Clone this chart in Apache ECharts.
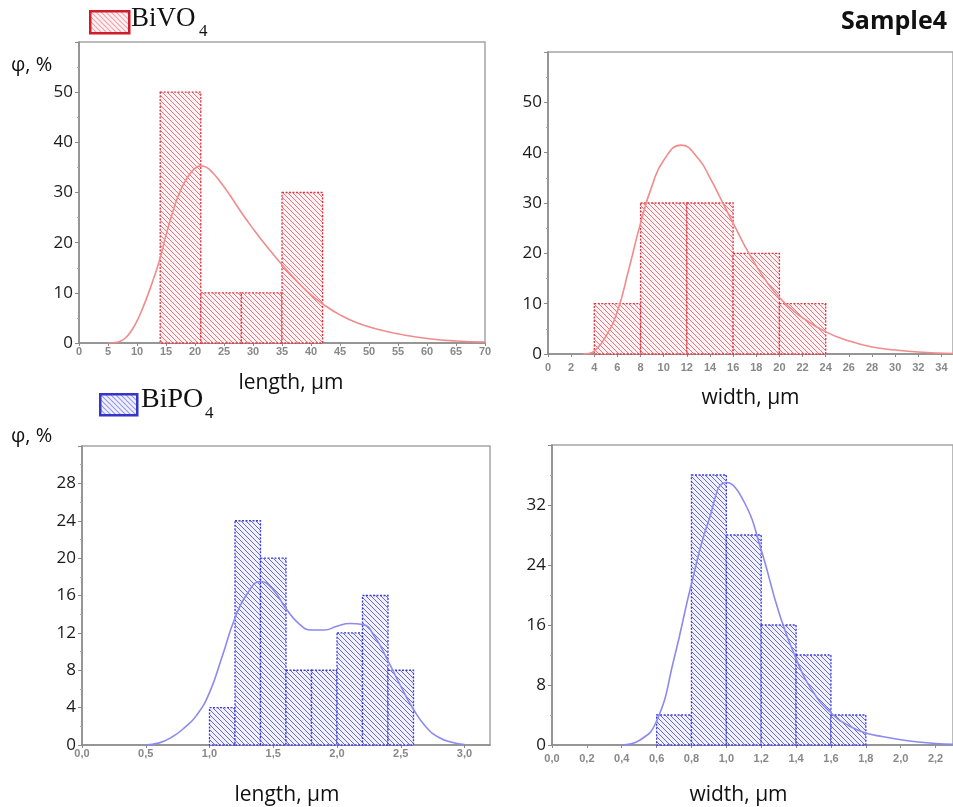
<!DOCTYPE html>
<html>
<head>
<meta charset="utf-8">
<script src="https://cdn.jsdelivr.net/npm/echarts@6/dist/echarts.min.js"></script>
<style>
  html, body { margin: 0; padding: 0; background: #fff; }
  #chart { width: 953px; height: 807px; }
</style>
</head>
<body>
<div id="chart"></div>
<script>
// ---- BiVO4: length distribution (µm, %) ----
const vLenEdges = [14, 21, 28, 35, 42];
const vLenPct = [50, 10, 10, 30];
const vLenFitX = [5, 6, 7, 8, 9, 10, 11, 12, 13, 14, 15, 16, 17, 18, 19, 20, 21, 22, 23, 24, 26, 28, 30, 32, 35, 38, 40, 42, 45, 48, 52, 56, 60, 65, 70];
const vLenFitY = [0, 0.05, 0.3, 1, 2.4, 4.4, 7, 10, 13.3, 17, 21.5, 25.5, 29, 31.6, 33.5, 34.8, 35.3, 35, 34, 32.7, 29.5, 26, 22.8, 19.8, 15.6, 11.8, 9.6, 7.8, 5.6, 4, 2.6, 1.6, 0.9, 0.4, 0.2];

// ---- BiVO4: width distribution ----
const vWidEdges = [4, 8, 12, 16, 20, 24];
const vWidPct = [10, 30, 30, 20, 10];
const vWidFitX = [3, 3.5, 4, 5, 6, 7, 8, 9, 10, 11.5, 13, 14, 15, 16, 17, 18, 19, 20, 21, 22, 24, 26, 28, 30, 32, 35];
const vWidFitY = [0, 0.1, 0.6, 3.5, 8.5, 17, 26, 33.5, 38.5, 41.5, 38.8, 35, 30.5, 26, 21.5, 17.5, 14, 11.2, 9, 7.2, 4.4, 2.6, 1.4, 0.8, 0.4, 0.1];

// ---- BiPO4: length distribution ----
const pLenEdges = [1.0, 1.2, 1.4, 1.6, 1.8, 2.0, 2.2, 2.4, 2.6];
const pLenPct = [4, 24, 20, 8, 8, 12, 16, 8];
const pLenFitX = [0.5, 0.6, 0.7, 0.8, 0.9, 1.0, 1.1, 1.2, 1.3, 1.4, 1.5, 1.6, 1.7, 1.8, 1.9, 2.0, 2.1, 2.2, 2.3, 2.4, 2.5, 2.6, 2.7, 2.8, 2.9, 3.0];
const pLenFitY = [0, 0.2, 0.8, 1.8, 3.2, 5.6, 9.5, 13.6, 16.3, 17.5, 16.6, 14.6, 13, 12.3, 12.3, 12.7, 13, 12.9, 11.5, 9, 6.3, 3.8, 1.9, 0.8, 0.3, 0.05];

// ---- BiPO4: width distribution ----
const pWidEdges = [0.6, 0.8, 1.0, 1.2, 1.4, 1.6, 1.8];
const pWidPct = [4, 36, 28, 16, 12, 4];
const pWidFitX = [0.4, 0.5, 0.6, 0.7, 0.8, 0.9, 1.0, 1.1, 1.2, 1.3, 1.4, 1.5, 1.6, 1.7, 1.8, 1.9, 2.0, 2.1, 2.2, 2.3];
const pWidFitY = [0, 0.6, 3.2, 11.5, 21.5, 30, 35, 32.5, 26, 17.8, 11.5, 7, 4.3, 2.6, 1.6, 1.1, 0.7, 0.4, 0.2, 0.1];

const SANS = '"Open Sans", "Noto Sans", sans-serif';
const SERIF = '"Liberation Serif", "DejaVu Serif", serif';

// diagonal hatch tile ("\" direction)
function hatch(lineColor, bgColor) {
  const s = 5;
  const c = document.createElement('canvas');
  c.width = s; c.height = s;
  const g = c.getContext('2d');
  g.fillStyle = bgColor;
  g.fillRect(0, 0, s, s);
  g.strokeStyle = lineColor;
  g.lineWidth = 1;
  g.beginPath();
  g.moveTo(-1, -1); g.lineTo(s + 1, s + 1);
  g.moveTo(-1, s - 1); g.lineTo(1, s + 1);
  g.moveTo(s - 1, -1); g.lineTo(s + 1, 1);
  g.stroke();
  return c;
}

const RED = { hatch: hatch('rgba(232,64,74,0.72)', '#fff4f5'), edge: '#e2333f', fit: '#f28b8b', legend: '#cf1c2a' };
const BLUE = { hatch: hatch('rgba(64,64,222,0.78)', '#f2f2fd'), edge: '#3c3cd8', fit: '#8a8af0', legend: '#3535c8' };

function pairs(xs, ys) { return xs.map((x, i) => [x, ys[i]]); }

function binSeries(idx, edges, pct, pal) {
  return {
    type: 'custom',
    xAxisIndex: idx, yAxisIndex: idx,
    data: pct.map((v, i) => [edges[i], edges[i + 1], v]),
    encode: { x: [0, 1], y: 2 },
    z: 2,
    renderItem(params, api) {
      const p0 = api.coord([api.value(0), api.value(2)]);
      const p1 = api.coord([api.value(1), 0]);
      return {
        type: 'rect',
        shape: { x: p0[0], y: p0[1], width: p1[0] - p0[0], height: p1[1] - p0[1] },
        style: { fill: { image: pal.hatch, repeat: 'repeat' }, stroke: pal.edge, lineWidth: 1.3, lineDash: [2, 1.5] }
      };
    }
  };
}

function fitSeries(idx, xs, ys, pal) {
  return {
    type: 'line', xAxisIndex: idx, yAxisIndex: idx,
    data: pairs(xs, ys), smooth: 0.5, showSymbol: false, z: 3,
    lineStyle: { color: pal.fit, width: 1.6 }
  };
}

const AX = '#8a8a8a';
function xAxis(idx, o) {
  return {
    gridIndex: idx, type: 'value', min: o.min, max: o.max, interval: o.interval,
    axisLine: { show: true, onZero: false, lineStyle: { color: AX, width: 1.5 } },
    axisTick: { show: true, length: 3, lineStyle: { color: AX } },
    splitLine: { show: false },
    axisLabel: {
      margin: o.margin, fontSize: 11, fontWeight: 'bold', color: '#888', fontFamily: '"Liberation Sans", Arial, sans-serif',
      showMaxLabel: o.showMax, formatter: o.fmt
    },
    name: o.name, nameLocation: 'middle', nameGap: o.nameGap,
    nameTextStyle: { fontSize: 21, color: '#111', fontFamily: SANS, padding: o.namePad || 0 }
  };
}
function yAxis(idx, o) {
  return {
    gridIndex: idx, type: 'value', min: 0, max: o.max, interval: o.interval,
    axisLine: { show: true, lineStyle: { color: AX, width: 1.5 } },
    axisTick: { show: true, length: 4, lineStyle: { color: AX } },
    minorTick: { show: true, splitNumber: 2, length: 2, lineStyle: { color: '#aaa' } },
    splitLine: { show: false },
    axisLabel: { margin: 6, fontSize: 17, color: '#1a1a1a', fontFamily: SANS, showMaxLabel: false }
  };
}

const frame = { show: true, borderColor: '#a5a5a5', borderWidth: 1.5, backgroundColor: '#fff' };
const comma = v => v.toFixed(1).replace('.', ',');

const chart = echarts.init(document.getElementById('chart'), null, { renderer: 'canvas' });
chart.setOption({
  animation: false,
  backgroundColor: '#fff',
  grid: [
    Object.assign({ left: 79, top: 42, width: 406, height: 301 }, frame),
    Object.assign({ left: 548, top: 52, width: 408, height: 302 }, frame),
    Object.assign({ left: 82, top: 446, width: 408, height: 302 }, frame),
    Object.assign({ left: 552, top: 445, width: 408, height: 303 }, frame)
  ],
  xAxis: [
    xAxis(0, { min: 0, max: 70, interval: 5, margin: 3, showMax: true, name: 'length, μm', nameGap: 30, namePad: [0, 0, 0, 18] }),
    xAxis(1, { min: 0, max: 35, interval: 2, margin: 8, showMax: false, name: 'width, μm', nameGap: 34 }),
    xAxis(2, { min: 0, max: 3.2, interval: 0.5, margin: 3, showMax: false, fmt: comma, name: 'length, μm', nameGap: 40, namePad: [0, 0, 0, 2] }),
    xAxis(3, { min: 0, max: 2.3, interval: 0.2, margin: 8, showMax: false, fmt: comma, name: 'width, μm', nameGap: 40, namePad: [0, 28, 0, 0] })
  ],
  yAxis: [
    yAxis(0, { max: 60, interval: 10 }),
    yAxis(1, { max: 60, interval: 10 }),
    yAxis(2, { max: 32, interval: 4 }),
    yAxis(3, { max: 40, interval: 8 })
  ],
  series: [
    binSeries(0, vLenEdges, vLenPct, RED), fitSeries(0, vLenFitX, vLenFitY, RED),
    binSeries(1, vWidEdges, vWidPct, RED), fitSeries(1, vWidFitX, vWidFitY, RED),
    binSeries(2, pLenEdges, pLenPct, BLUE), fitSeries(2, pLenFitX, pLenFitY, BLUE),
    binSeries(3, pWidEdges, pWidPct, BLUE), fitSeries(3, pWidFitX, pWidFitY, BLUE)
  ],
  graphic: [
    // BiVO4 key
    { type: 'rect', left: 89, top: 10, shape: { width: 39, height: 22 },
      style: { fill: { image: RED.hatch, repeat: 'repeat' }, stroke: RED.legend, lineWidth: 2.5 } },
    { type: 'text', left: 131, top: 5, style: { text: 'BiVO', font: '27px ' + SERIF, fill: '#111' } },
    { type: 'text', left: 199, top: 23, style: { text: '4', font: '17px ' + SERIF, fill: '#111' } },
    // BiPO4 key
    { type: 'rect', left: 99, top: 393, shape: { width: 37, height: 21 },
      style: { fill: { image: BLUE.hatch, repeat: 'repeat' }, stroke: BLUE.legend, lineWidth: 2.5 } },
    { type: 'text', left: 141, top: 386, style: { text: 'BiPO', font: '28px ' + SERIF, fill: '#111' } },
    { type: 'text', left: 205, top: 405, style: { text: '4', font: '17px ' + SERIF, fill: '#111' } },
    // sample caption
    { type: 'text', right: 6, top: 9, style: { text: 'Sample4', font: 'bold 25px ' + SANS, fill: '#111' } },
    // shared y-axis captions
    { type: 'text', left: 11, top: 55, style: { text: 'φ, %', font: '20px ' + SANS, fill: '#111' } },
    { type: 'text', left: 11, top: 426, style: { text: 'φ, %', font: '20px ' + SANS, fill: '#111' } }
  ]
});
</script>
</body>
</html>
